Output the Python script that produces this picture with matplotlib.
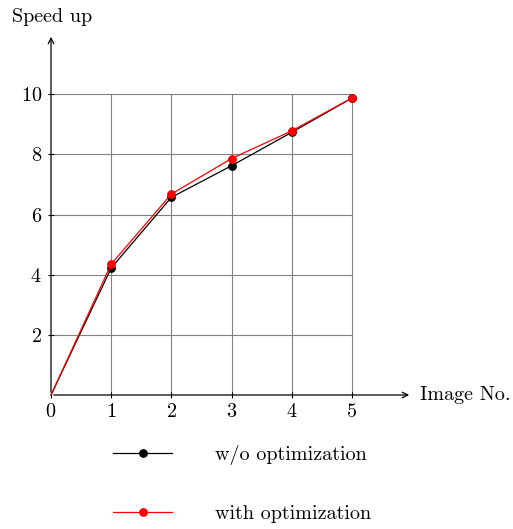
import numpy as np
import matplotlib
matplotlib.use("Agg")
import matplotlib.pyplot as plt

plt.rcParams["font.family"] = "serif"
plt.rcParams["font.serif"] = ["cmr10"]
plt.rcParams["mathtext.fontset"] = "cm"
plt.rcParams["axes.formatter.use_mathtext"] = True

# data
image_no = [0, 1, 2, 3, 4, 5]
speedup_plain = [0, 4.22, 6.57, 7.62, 8.73, 9.87]
speedup_opt = [0, 4.35, 6.68, 7.86, 8.78, 9.87]
xtick_vals = [0, 1, 2, 3, 4, 5]
ytick_vals = [2, 4, 6, 8, 10]

fs = 14.5
fig = plt.figure(figsize=(5.13, 5.29), dpi=100)
W, H = 513., 529.
ax = fig.add_axes([51 / W, (H - 395) / H, 361 / W, 361 / H])
ax.set_xlim(0, 6)
ax.set_ylim(0, 12)

# grid, only inside the data box
ax.vlines(xtick_vals[1:], 0, 10, colors="#808080", lw=0.8, zorder=1)
ax.hlines(ytick_vals, 0, 5, colors="#808080", lw=0.8, zorder=1)

# origin has no mark
ax.plot(image_no, speedup_plain, color="black", lw=0.9, marker="o", ms=5.3,
        markevery=slice(1, None), label="w/o optimization", zorder=3, clip_on=False)
ax.plot(image_no, speedup_opt, color="red", lw=0.9, marker="o", ms=5.3,
        markevery=slice(1, None), label="with optimization", zorder=4, clip_on=False)

for s in ax.spines.values():
    s.set_visible(False)

# axis arrows
ax.annotate("", xy=(6, 0), xytext=(0, 0),
            arrowprops=dict(arrowstyle="->", lw=0.9, color="black"), annotation_clip=False)
ax.annotate("", xy=(0, 12), xytext=(0, 0),
            arrowprops=dict(arrowstyle="->", lw=0.9, color="black"), annotation_clip=False)

ax.set_xticks(xtick_vals)
ax.set_yticks(ytick_vals)
ax.tick_params(direction="inout", length=5, width=0.8, labelsize=fs, pad=3)
ax.tick_params(axis="y", pad=4)

ax.text(6.13, -0.17, "Image No.", fontsize=fs, va="baseline", ha="left")
ax.text(0.02, 12.4, "Speed up", fontsize=fs, va="baseline", ha="center")

leg = fig.legend(loc="upper left", bbox_to_anchor=(95 / W, (H - 427) / H),
                 frameon=False, fontsize=fs, handlelength=2.93, handletextpad=2.14,
                 labelspacing=1.98)

fig.savefig("out.png", dpi=100)
